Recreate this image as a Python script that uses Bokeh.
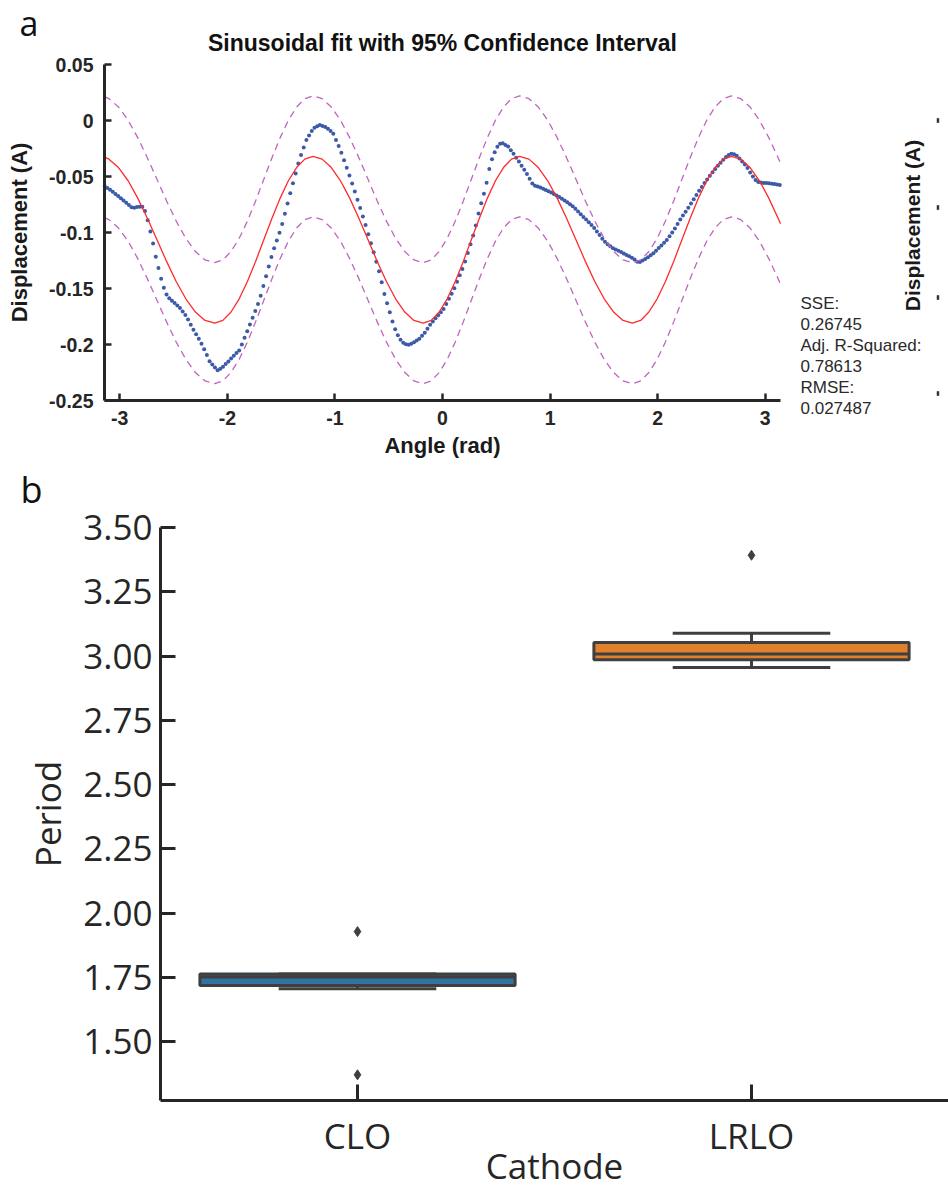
import numpy as np
from bokeh.plotting import figure
from bokeh.models import (Range1d, FixedTicker, CustomJSTickFormatter, Label, LinearAxis)
from bokeh.embed import file_html
from bokeh.resources import INLINE

# ---------------- panel a : data ----------------
data_angle = np.round(np.arange(252) * 0.025 - 3.14, 3)
data_disp = [
    -0.0585, -0.0602, -0.0619, -0.0636, -0.0656, -0.0675, -0.0695, -0.0715, -0.0735, -0.0755,
    -0.0775, -0.0780, -0.0773, -0.0770, -0.0770, -0.0809, -0.0891, -0.0990, -0.1098, -0.1216,
    -0.1317, -0.1413, -0.1494, -0.1553, -0.1586, -0.1609, -0.1630, -0.1652, -0.1675, -0.1706,
    -0.1737, -0.1777, -0.1823, -0.1868, -0.1908, -0.1949, -0.1994, -0.2042, -0.2093, -0.2150,
    -0.2178, -0.2205, -0.2231, -0.2217, -0.2198, -0.2175, -0.2151, -0.2126, -0.2100, -0.2076,
    -0.2053, -0.1999, -0.1940, -0.1881, -0.1821, -0.1762, -0.1700, -0.1638, -0.1565, -0.1478,
    -0.1390, -0.1304, -0.1218, -0.1140, -0.1071, -0.1003, -0.0923, -0.0833, -0.0740, -0.0650,
    -0.0560, -0.0473, -0.0385, -0.0309, -0.0242, -0.0174, -0.0134, -0.0094, -0.0065, -0.0052,
    -0.0040, -0.0049, -0.0057, -0.0073, -0.0094, -0.0118, -0.0173, -0.0228, -0.0289, -0.0355,
    -0.0421, -0.0491, -0.0562, -0.0634, -0.0708, -0.0782, -0.0857, -0.0933, -0.1015, -0.1095,
    -0.1177, -0.1262, -0.1346, -0.1444, -0.1548, -0.1631, -0.1713, -0.1794, -0.1863, -0.1917,
    -0.1958, -0.1985, -0.1997, -0.2003, -0.1994, -0.1981, -0.1965, -0.1948, -0.1922, -0.1895,
    -0.1860, -0.1823, -0.1794, -0.1766, -0.1739, -0.1712, -0.1683, -0.1638, -0.1592, -0.1547,
    -0.1497, -0.1440, -0.1382, -0.1325, -0.1259, -0.1182, -0.1104, -0.1027, -0.0937, -0.0831,
    -0.0738, -0.0653, -0.0555, -0.0434, -0.0345, -0.0283, -0.0235, -0.0208, -0.0204, -0.0219,
    -0.0233, -0.0265, -0.0297, -0.0332, -0.0367, -0.0404, -0.0440, -0.0478, -0.0520, -0.0562,
    -0.0582, -0.0590, -0.0599, -0.0610, -0.0620, -0.0631, -0.0642, -0.0656, -0.0669, -0.0683,
    -0.0698, -0.0714, -0.0730, -0.0748, -0.0766, -0.0789, -0.0813, -0.0837, -0.0861, -0.0885,
    -0.0909, -0.0933, -0.0959, -0.0991, -0.1023, -0.1055, -0.1082, -0.1105, -0.1123, -0.1140,
    -0.1152, -0.1163, -0.1175, -0.1188, -0.1200, -0.1213, -0.1225, -0.1242, -0.1262, -0.1263,
    -0.1250, -0.1237, -0.1220, -0.1203, -0.1185, -0.1162, -0.1139, -0.1115, -0.1091, -0.1066,
    -0.1033, -0.1000, -0.0964, -0.0924, -0.0884, -0.0849, -0.0814, -0.0778, -0.0741, -0.0704,
    -0.0666, -0.0628, -0.0593, -0.0559, -0.0526, -0.0494, -0.0463, -0.0433, -0.0405, -0.0377,
    -0.0351, -0.0325, -0.0309, -0.0296, -0.0302, -0.0315, -0.0340, -0.0365, -0.0393, -0.0424,
    -0.0464, -0.0499, -0.0532, -0.0549, -0.0554, -0.0557, -0.0559, -0.0560, -0.0564, -0.0568,
    -0.0572, -0.0576,
]

fit_angle = [
    -3.1416, -3.1007, -3.0113, -2.9220, -2.8327, -2.7433, -2.6540, -2.5647, -2.4753, -2.3860,
    -2.2967, -2.2073, -2.1180,
    -2.0418, -1.9657, -1.8895, -1.8133, -1.7372, -1.6610, -1.5848, -1.5087, -1.4325, -1.3563,
    -1.2802, -1.2040,
    -1.1187, -1.0333, -0.9480, -0.8627, -0.7773, -0.6920, -0.6067, -0.5213, -0.4360, -0.3507,
    -0.2653, -0.1800,
    -0.1053, -0.0307, 0.0440, 0.1187, 0.1933, 0.2680, 0.3427, 0.4173, 0.4920, 0.5667,
    0.6413, 0.7160,
    0.8034, 0.8908, 0.9783, 1.0657, 1.1531, 1.2405, 1.3279, 1.4153, 1.5028, 1.5902,
    1.6776, 1.7650,
    1.8418, 1.9185, 1.9953, 2.0720, 2.1488, 2.2255, 2.3023, 2.3790, 2.4558, 2.5325,
    2.6093, 2.6860,
    2.7727, 2.8593, 2.9460, 3.0327, 3.1193, 3.1416,
]
fit_disp = [
    -0.0327, -0.0345, -0.0420, -0.0538, -0.0693, -0.0872, -0.1065, -0.1258, -0.1438, -0.1592,
    -0.1710, -0.1785, -0.1810,
    -0.1785, -0.1710, -0.1592, -0.1438, -0.1258, -0.1065, -0.0872, -0.0693, -0.0538, -0.0420,
    -0.0345, -0.0320,
    -0.0345, -0.0420, -0.0538, -0.0693, -0.0872, -0.1065, -0.1258, -0.1438, -0.1592, -0.1710,
    -0.1785, -0.1810,
    -0.1785, -0.1710, -0.1592, -0.1438, -0.1258, -0.1065, -0.0872, -0.0693, -0.0538, -0.0420,
    -0.0345, -0.0320,
    -0.0345, -0.0420, -0.0538, -0.0693, -0.0872, -0.1065, -0.1258, -0.1438, -0.1592, -0.1710,
    -0.1785, -0.1810,
    -0.1785, -0.1710, -0.1592, -0.1438, -0.1258, -0.1065, -0.0872, -0.0693, -0.0538, -0.0420,
    -0.0345, -0.0320,
    -0.0345, -0.0420, -0.0538, -0.0693, -0.0872, -0.0922,
]
ci_upper = [
    0.0213, 0.0195, 0.0120, 0.0002, -0.0153, -0.0332, -0.0525, -0.0718, -0.0898, -0.1052,
    -0.1170, -0.1245, -0.1270,
    -0.1245, -0.1170, -0.1052, -0.0898, -0.0718, -0.0525, -0.0332, -0.0153, 0.0002, 0.0120,
    0.0195, 0.0220,
    0.0195, 0.0120, 0.0002, -0.0153, -0.0332, -0.0525, -0.0718, -0.0898, -0.1052, -0.1170,
    -0.1245, -0.1270,
    -0.1245, -0.1170, -0.1052, -0.0898, -0.0718, -0.0525, -0.0332, -0.0153, 0.0002, 0.0120,
    0.0195, 0.0220,
    0.0195, 0.0120, 0.0002, -0.0153, -0.0332, -0.0525, -0.0718, -0.0898, -0.1052, -0.1170,
    -0.1245, -0.1270,
    -0.1245, -0.1170, -0.1052, -0.0898, -0.0718, -0.0525, -0.0332, -0.0153, 0.0002, 0.0120,
    0.0195, 0.0220,
    0.0195, 0.0120, 0.0002, -0.0153, -0.0332, -0.0382,
]
ci_lower = [
    -0.0867, -0.0885, -0.0960, -0.1078, -0.1233, -0.1412, -0.1605, -0.1798, -0.1978, -0.2132,
    -0.2250, -0.2325, -0.2350,
    -0.2325, -0.2250, -0.2132, -0.1978, -0.1798, -0.1605, -0.1412, -0.1233, -0.1078, -0.0960,
    -0.0885, -0.0860,
    -0.0885, -0.0960, -0.1078, -0.1233, -0.1412, -0.1605, -0.1798, -0.1978, -0.2132, -0.2250,
    -0.2325, -0.2350,
    -0.2325, -0.2250, -0.2132, -0.1978, -0.1798, -0.1605, -0.1412, -0.1233, -0.1078, -0.0960,
    -0.0885, -0.0860,
    -0.0885, -0.0960, -0.1078, -0.1233, -0.1412, -0.1605, -0.1798, -0.1978, -0.2132, -0.2250,
    -0.2325, -0.2350,
    -0.2325, -0.2250, -0.2132, -0.1978, -0.1798, -0.1605, -0.1412, -0.1233, -0.1078, -0.0960,
    -0.0885, -0.0860,
    -0.0885, -0.0960, -0.1078, -0.1233, -0.1412, -0.1462,
]

angle_ticks = [-3, -2, -1, 0, 1, 2, 3]
disp_ticks = [-0.25, -0.2, -0.15, -0.1, -0.05, 0, 0.05]
angle_lim = (-np.pi, np.pi)
disp_lim = (-0.25, 0.05)
fit_stats = ["SSE:", "0.26745", "Adj. R-Squared:", "0.78613", "RMSE:", "0.027487"]

# ---------------- panel b : data ----------------
cathodes = ["CLO", "LRLO"]
q1 = [1.718, 2.986]
medians = [1.751, 3.008]
q3 = [1.763, 3.053]
whisker_low = [1.706, 2.955]
whisker_high = [1.763, 3.089]
box_colors = ["#3274a1", "#e1812c"]
outlier_cathode = ["CLO", "CLO", "LRLO"]
outlier_period = [1.928, 1.371, 3.392]
period_ticks = [1.5, 1.75, 2.0, 2.25, 2.5, 2.75, 3.0, 3.25, 3.5]
period_lim = (1.273, 3.5)

# ---------------- layout (page pixels) ----------------
W, H = 948, 1187
A_LEFT, A_RIGHT, A_TOP, A_BOTTOM = 104, 780, 64, 400       # panel a plot box
B_LEFT, B_RIGHT, B_TOP, B_BOTTOM = 160, 948, 527, 1099.5   # panel b plot box

kx = (A_RIGHT - A_LEFT) / (angle_lim[1] - angle_lim[0])
ky = (A_BOTTOM - A_TOP) / (disp_lim[1] - disp_lim[0])
top_x = (angle_lim[0] - A_LEFT / kx, angle_lim[1] + (W - A_RIGHT) / kx)
top_y = (disp_lim[0] - (H - A_BOTTOM) / ky, disp_lim[1] + A_TOP / ky)

n_cat = len(cathodes)
kc = (B_RIGHT - B_LEFT) / n_cat
cath_x = (-B_LEFT / kc, n_cat + (W - B_RIGHT) / kc)
kp = (B_BOTTOM - B_TOP) / (period_lim[1] - period_lim[0])
per_y = (period_lim[0] - (H - B_BOTTOM) / kp, period_lim[1] + B_TOP / kp)


def ax_x(px):
    return top_x[0] + px / kx


def ax_y(py):
    return top_y[1] - py / ky


AX = "#262626"
HF = "Liberation Sans"
MF = "Open Sans"

p = figure(width=W, height=H, output_backend="svg", toolbar_location=None,
           x_range=Range1d(*top_x), y_range=Range1d(*top_y), min_border=0)
p.extra_x_ranges = {"cath": Range1d(*cath_x)}
p.extra_y_ranges = {"period": Range1d(*per_y)}
p.outline_line_color = None
p.grid.visible = False
p.background_fill_color = "white"
p.border_fill_color = "white"

# ================= panel a =================
p.scatter(data_angle, data_disp, size=4, color="#3c5aa8", line_color=None)
p.line(fit_angle, fit_disp, line_color="#ff2a2a", line_width=1.3)
p.line(fit_angle, ci_upper, line_color="#c064c0", line_width=1.3, line_dash="7 5")
p.line(fit_angle, ci_lower, line_color="#c064c0", line_width=1.3, line_dash="7 5")

xa = p.xaxis[0]
ya = p.yaxis[0]
for ax in (xa, ya):
    ax.axis_line_color = AX
    ax.axis_line_width = 3
    ax.major_tick_line_color = AX
    ax.major_tick_line_width = 2.5
    ax.major_tick_in = 7
    ax.major_tick_out = 0
    ax.minor_tick_line_color = None
    ax.major_label_text_font = HF
    ax.major_label_text_font_style = "bold"
    ax.major_label_text_font_size = "19.5px"
    ax.major_label_text_color = AX
    ax.axis_label_text_font = HF
    ax.axis_label_text_font_style = "bold"
    ax.axis_label_text_font_size = "22px"
    ax.axis_label_text_color = "#1a1a1a"

xa.fixed_location = disp_lim[0]
xa.bounds = angle_lim
xa.ticker = FixedTicker(ticks=angle_ticks)
xa.formatter = CustomJSTickFormatter(code="return tick.toFixed(0);")
xa.axis_label = "Angle (rad)"
xa.major_label_standoff = 10
xa.axis_label_standoff = 5

ya.fixed_location = angle_lim[0]
ya.bounds = disp_lim
ya.ticker = FixedTicker(ticks=disp_ticks)
ya.formatter = CustomJSTickFormatter(code="return (Math.round(tick*100)/100).toString();")
ya.axis_label = "Displacement (A)"
ya.major_label_standoff = 11
ya.axis_label_standoff = 14

p.add_layout(Label(x=ax_x((A_LEFT + A_RIGHT) / 2), y=ax_y(42),
                   text="Sinusoidal fit with 95% Confidence Interval",
                   text_font=HF, text_font_style="bold", text_font_size="23px",
                   text_color="#111111", text_align="center", text_baseline="alphabetic"))
p.add_layout(Label(x=ax_x(19), y=ax_y(22), text="a", text_font=MF, text_font_size="34px",
                   text_color="#111111", text_align="left", text_baseline="alphabetic"))
for i, t in enumerate(fit_stats):
    p.add_layout(Label(x=ax_x(800), y=ax_y(303 + 20.9 * i), text=t, text_font=HF,
                       text_font_size="17px", text_color="#2a2a2a", text_align="left",
                       text_baseline="alphabetic"))
p.add_layout(Label(x=ax_x(912), y=ax_y(225), text="Displacement (A)", text_font=HF,
                   text_font_style="bold", text_font_size="21px", text_color="#1a1a1a",
                   text_align="center", text_baseline="middle", angle=np.pi / 2))
for py in (120, 207, 297, 393):
    p.add_layout(Label(x=ax_x(936), y=ax_y(py), text="-", text_font=HF, text_font_style="bold",
                       text_font_size="18px", text_color=AX, text_align="center",
                       text_baseline="middle", angle=np.pi / 2))

# ================= panel b =================
cat_pos = [i + 0.5 for i in range(n_cat)]
pos_of = dict(zip(cathodes, cat_pos))
BOX_W, CAP_W = 0.8, 0.4
EDGE = "#3f3f3f"
rb = dict(x_range_name="cath", y_range_name="period")

p.segment(x0=cat_pos, y0=q3, x1=cat_pos, y1=whisker_high, line_color=EDGE, line_width=3, **rb)
p.segment(x0=cat_pos, y0=q1, x1=cat_pos, y1=whisker_low, line_color=EDGE, line_width=3, **rb)
p.vbar(x=cat_pos, bottom=q1, top=q3, width=BOX_W, fill_color=box_colors,
       line_color=EDGE, line_width=3, **rb)
left_box = [c - BOX_W / 2 for c in cat_pos]
right_box = [c + BOX_W / 2 for c in cat_pos]
left_cap = [c - CAP_W / 2 for c in cat_pos]
right_cap = [c + CAP_W / 2 for c in cat_pos]
p.segment(x0=left_box, y0=medians, x1=right_box, y1=medians, line_color=EDGE, line_width=3, **rb)
p.segment(x0=left_cap, y0=whisker_high, x1=right_cap, y1=whisker_high, line_color=EDGE,
          line_width=3, **rb)
p.segment(x0=left_cap, y0=whisker_low, x1=right_cap, y1=whisker_low, line_color=EDGE,
          line_width=3, **rb)
p.scatter([pos_of[c] for c in outlier_cathode], outlier_period, marker="diamond", size=10,
          color=EDGE, **rb)

xb = LinearAxis(x_range_name="cath", y_range_name="period")
yb = LinearAxis(x_range_name="cath", y_range_name="period")
p.add_layout(xb, "below")
p.add_layout(yb, "left")
for ax in (xb, yb):
    ax.axis_line_color = AX
    ax.axis_line_width = 3
    ax.major_tick_line_color = AX
    ax.major_tick_line_width = 3
    ax.major_tick_out = 0
    ax.minor_tick_line_color = None
    ax.major_label_text_font = MF
    ax.major_label_text_font_size = "35px"
    ax.major_label_text_color = AX
    ax.axis_label_text_font = MF
    ax.axis_label_text_font_size = "35px"
    ax.axis_label_text_color = AX
    ax.axis_label_text_font_style = "normal"

xb.fixed_location = period_lim[0]
xb.bounds = (0, n_cat)
xb.ticker = FixedTicker(ticks=cat_pos)
xb.formatter = CustomJSTickFormatter(args=dict(names=cathodes),
                                     code="return names[Math.round(tick - 0.5)];")
xb.major_tick_in = 16
xb.axis_label = "Cathode"
xb.major_label_standoff = 12
xb.axis_label_standoff = -21

yb.fixed_location = 0
yb.bounds = period_lim
yb.ticker = FixedTicker(ticks=period_ticks)
yb.formatter = CustomJSTickFormatter(code="return tick.toFixed(2);")
yb.major_tick_in = 15
yb.axis_label = "Period"
yb.major_label_standoff = 8
yb.axis_label_standoff = 9

p.add_layout(Label(x=ax_x(20), y=ax_y(489), text="b", text_font=MF, text_font_size="36px",
                   text_color="#111111", text_align="left", text_baseline="alphabetic"))

open("out.html", "w").write(file_html(p, INLINE))
